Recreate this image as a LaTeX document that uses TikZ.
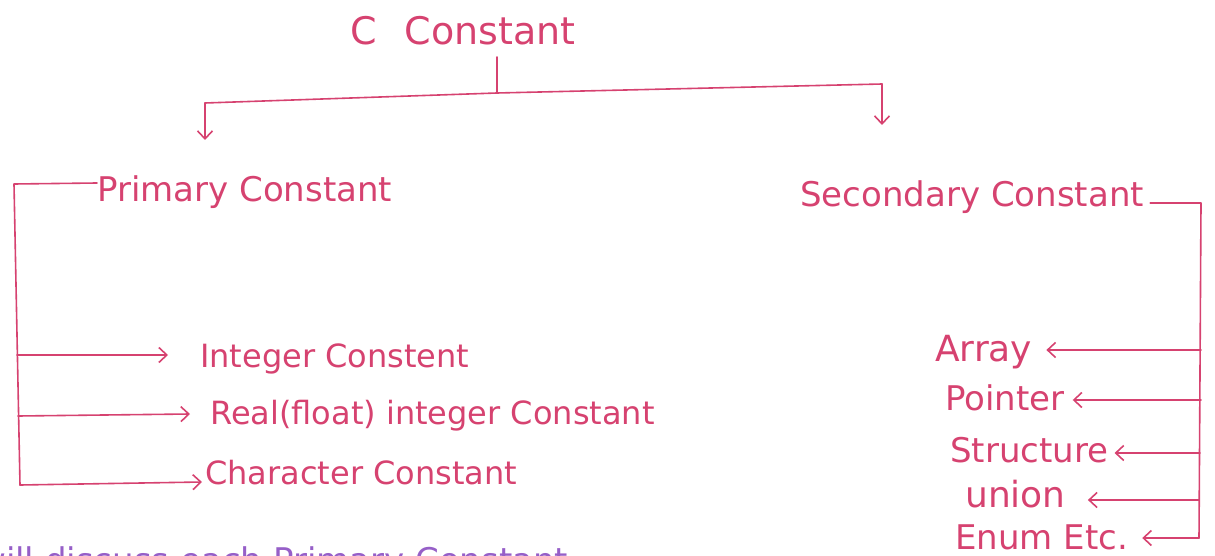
\documentclass[tikz,border=0pt]{standalone}
\usepackage{fontspec}
\setmainfont{DejaVu Sans}
\usetikzlibrary{arrows.meta}
\definecolor{ink}{RGB}{214,66,112}
\definecolor{violetink}{RGB}{150,95,200}
\tikzset{
  hand/.style={draw=ink, line width=1.6pt, line cap=round, line join=round},
  harrow/.style={hand, -{Straight Barb[length=8pt,width=15pt,line width=1.6pt]}},
  lbl/.style={text=ink, inner sep=0pt, font=\fontsize{34}{36}\selectfont},
  small/.style={text=ink, inner sep=0pt, font=\fontsize{32}{34}\selectfont},
  smallr/.style={text=ink, inner sep=0pt, font=\fontsize{34}{36}\selectfont},
  wider/.style={text=ink, inner sep=0pt, font=\fontsize{36}{38}\selectfont},
}
\begin{document}
\begin{tikzpicture}[x=1pt,y=-1pt]
\useasboundingbox (0,0) rectangle (1215,556);
\clip (0,0) rectangle (1215,556);

% titles
\node[text=ink, inner sep=0pt, anchor=base west, font=\fontsize{38}{40}\selectfont] (root) at (350,45) {C\hspace{28pt}Constant};
\node[lbl, anchor=base west] (prim) at (97,202) {Primary Constant};
\node[lbl, anchor=base west] (sec) at (800,207) {Secondary Constant};

% top tree
\coordinate (rb) at (497,93);
\coordinate (lt) at (205,103);
\coordinate (rt) at (882,84);
\draw[hand] (497,57) -- (rb);
\draw[hand] (lt) -- (rb) -- (rt);
\draw[harrow] (lt) -- (205,140);
\draw[harrow] (rt) -- (882,125);

% primary children
\node[small, anchor=base west] (int) at (200,367) {Integer Constent};
\node[small, anchor=base west] (real) at (210,424) {Real(float) integer Constant};
\node[small, anchor=base west] (chr) at (205,484) {Character Constant};

\coordinate (pl) at (14,184);
\draw[hand] (prim.west |- 0,183) -- (pl) -- (20,485);
\draw[harrow] (17,355) -- ([xshift=-32pt]int.west |- 0,355);
\draw[harrow] (18,416) -- ([xshift=-20pt]real.west |- 0,414);
\draw[harrow] (20,485) -- ([xshift=-3pt]chr.west |- 0,482);

% secondary children
\node[wider, anchor=base west] (arr) at (935,361) {Array};
\node[smallr, anchor=base west] (ptr) at (945,410) {Pointer};
\node[smallr, anchor=base west] (str) at (950,462) {Structure};
\node[wider, anchor=base west] (uni) at (965,507) {union};
\node[smallr, anchor=base west] (enu) at (955,549) {Enum Etc.};

\coordinate (sr) at (1201,203);
\draw[hand] ([xshift=6pt]sec.east |- 0,203) -- (sr) -- (1199,538);
\draw[harrow] (1201,350) -- ([xshift=14pt]arr.east |- 0,350);
\draw[harrow] (1201,400) -- ([xshift=8pt]ptr.east |- 0,400);
\draw[harrow] (1200,453) -- ([xshift=6pt]str.east |- 0,453);
\draw[harrow] (1199,500) -- ([xshift=22pt]uni.east |- 0,500);
\draw[harrow] (1199,538) -- ([xshift=14pt]enu.east |- 0,538);

% cut-off note at the bottom (cut by the page edge, as in the source)
\node[text=violetink, inner sep=0pt, anchor=base west, font=\fontsize{34}{36}\selectfont] (note) at (-22,572) {will discuss each Primary Constant};
\end{tikzpicture}
\end{document}
